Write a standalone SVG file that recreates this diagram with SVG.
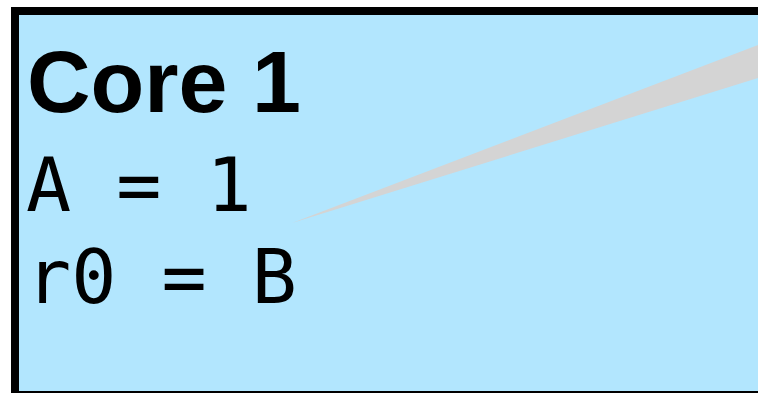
<svg xmlns="http://www.w3.org/2000/svg" width="758" height="393" viewBox="0 0 758 393">
<style>
.box{fill:#B2E6FE;stroke:#000;stroke-width:8}
.title{font-family:"Liberation Sans",Arial,sans-serif;font-weight:bold;font-size:88px;fill:#000}
.code{font-family:"DejaVu Sans Mono","Liberation Mono",monospace;font-size:75px;fill:#000}
.wedge{fill:#D4D4D4}
</style>
<rect width="758" height="393" fill="#fff"/>
<g id="core1">
<rect class="box" x="15" y="11" width="800" height="384"/>
<text class="title" x="27" y="112">Core 1</text>
<text class="code" x="26" y="211">A = 1</text>
<text class="code" x="26" y="303">r0 = B</text>
</g>
<g id="connectors">
<polygon class="wedge" points="292,223 758,45 758,78"/>
</g>
</svg>
